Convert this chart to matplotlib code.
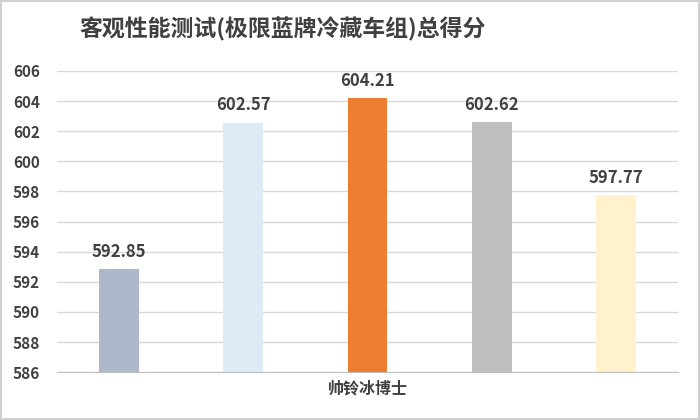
import matplotlib.pyplot as plt
from matplotlib.patches import Rectangle

plt.rcParams['font.family'] = ['Noto Sans CJK SC', 'DejaVu Sans']

# 标签：除"帅铃冰博士"外原图均打码，保留空白
categories = ['', '', '帅铃冰博士', '', '']
scores = [592.85, 602.57, 604.21, 602.62, 597.77]
colors = ['#ADB9CA', '#DDEBF7', '#ED7D31', '#BFBFBF', '#FFF2CC']
y_ticks = list(range(586, 607, 2))

TXT = '#404040'

fig = plt.figure(figsize=(7, 4.2), dpi=100)
ax = fig.add_axes([0.081, 0.114, 0.888, 0.717])

x = range(len(categories))
bars = ax.bar(x, scores, width=0.32, color=colors, zorder=3)

for b, v in zip(bars, scores):
    ax.text(b.get_x() + b.get_width() / 2, v + 0.55, f'{v:.2f}',
            ha='center', va='bottom', fontsize=12, fontweight='bold', color=TXT)

ax.set_ylim(586, 606)
ax.set_xlim(-0.5, len(categories) - 0.5)
ax.set_yticks(y_ticks)
ax.set_xticks(list(x))
ax.set_xticklabels(categories, fontsize=11.5, fontweight='bold', color=TXT)
ax.tick_params(axis='y', labelsize=11, colors=TXT, length=0, pad=12)
ax.tick_params(axis='x', length=0, pad=6)
for lab in ax.get_yticklabels():
    lab.set_fontweight('bold')

ax.grid(axis='y', color='#D9D9D9', linewidth=1, zorder=0)
for side in ['top', 'right', 'left']:
    ax.spines[side].set_visible(False)
ax.spines['bottom'].set_color('#BFBFBF')
ax.spines['bottom'].set_zorder(4)

fig.text(0.114, 0.93, '客观性能测试(极限蓝牌冷藏车组)总得分',
         fontsize=16.5, fontweight='bold', color=TXT, ha='left', va='center')

# 外框
fig.patches.append(Rectangle((0.002, 0.003), 0.996, 0.994, transform=fig.transFigure,
                             fill=False, edgecolor='#D0D0D0', linewidth=1.5))

fig.savefig('out.png', dpi=100)
